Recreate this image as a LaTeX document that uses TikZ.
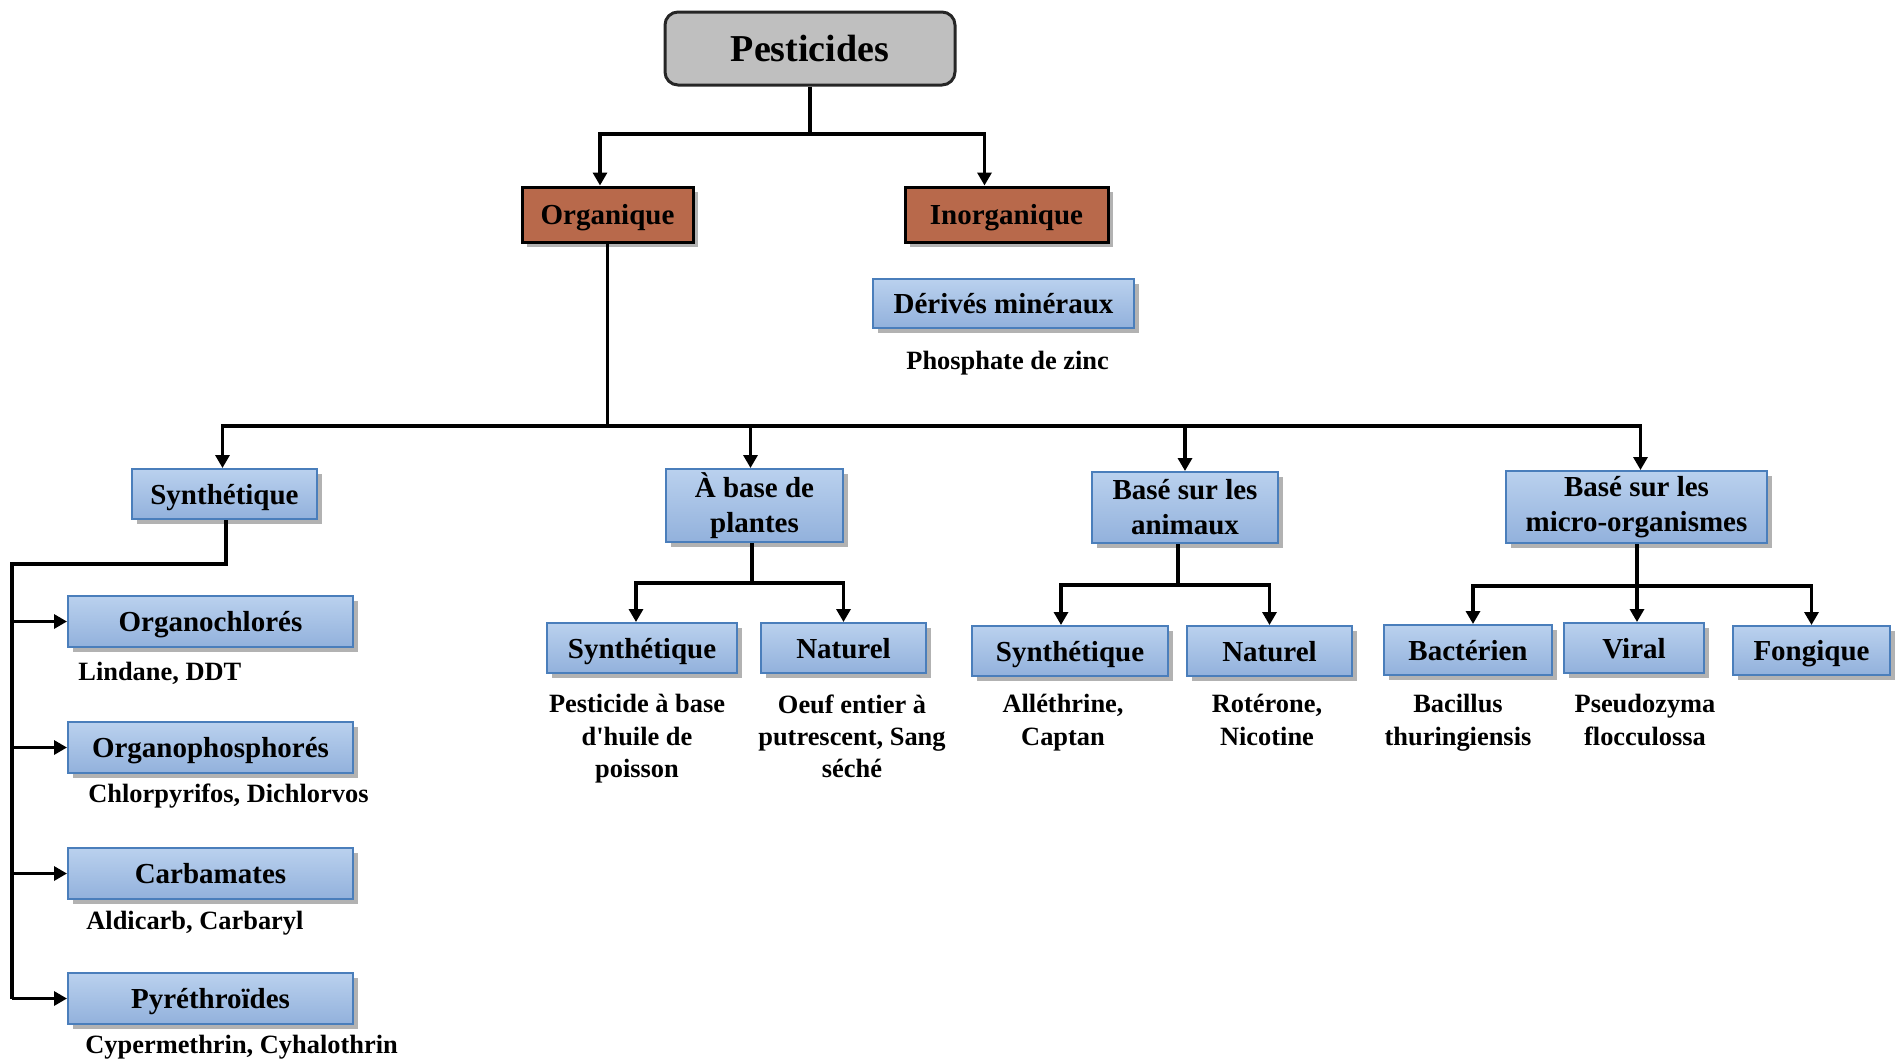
\documentclass[tikz,border=0pt]{standalone}
\usepackage{fontspec}
\setmainfont{Liberation Serif}[Ligatures=TeXOff]
\usetikzlibrary{arrows.meta,shadows}
\definecolor{boxtop}{HTML}{BAD1EE}
\definecolor{boxbot}{HTML}{92B1DC}
\definecolor{boxline}{HTML}{4A7EBB}
\definecolor{brick}{HTML}{B8694B}
\definecolor{greybox}{HTML}{BFBFBF}
\begin{document}
\begin{tikzpicture}[x=0.5pt,y=-0.5pt,
  shad/.style={drop shadow={shadow xshift=2.5pt, shadow yshift=-2.5pt, opacity=0.3, fill=black}},
  bluebox/.style={draw=boxline, line width=1pt, top color=boxtop, bottom color=boxbot,
    inner sep=0pt, align=center, font=\bfseries\fontsize{14.5}{17.5}\selectfont, shad},
  oneline/.style={text height=13pt, text depth=3pt},
  brickbox/.style={draw=black, line width=1.5pt, fill=brick, inner sep=0pt, oneline,
    font=\bfseries\fontsize{14.5}{17}\selectfont, shad, minimum height=27.5pt},
  lab/.style={inner sep=0pt, align=center, font=\bfseries\fontsize{13.2}{16.2}\selectfont},
  conn/.style={line width=1.6pt, draw=black},
  arr/.style={conn, -{Triangle[length=6.5pt,width=7pt]}}]
\useasboundingbox (0,0) rectangle (1896,1062);

% top
\node[draw=black!85, line width=1.5pt, fill=greybox, rounded corners=6.5pt,
  minimum width=145pt, minimum height=36.5pt, inner sep=0pt, text height=16.3pt, text depth=3.5pt,
  font=\bfseries\fontsize{19}{21}\selectfont] (pest) at (810,48.5) {Pesticides};
\node[brickbox, minimum width=85.5pt] (org) at (607.5,214.5) {Organique};
\node[brickbox, minimum width=101.5pt] (inorg) at (1006.5,214.5) {Inorganique};
\node[bluebox, oneline, minimum width=130.5pt, minimum height=24.5pt] (der) at (1003.5,303.5) {Dérivés minéraux};
\node[lab, anchor=west] (phos) at (906,363) {Phosphate de zinc};

% second level
\node[bluebox, oneline, minimum width=92.5pt, minimum height=25pt] (syn) at (224.5,494) {Synthétique};
\node[bluebox, minimum width=88.5pt, minimum height=36.5pt] (pla) at (754.5,505.5) {À base de\\plantes};
\node[bluebox, minimum width=93pt, minimum height=35.5pt] (ani) at (1185,507.5) {Basé sur les\\animaux};
\node[bluebox, minimum width=130.5pt, minimum height=36pt] (mic) at (1636.5,507) {Basé sur les\\micro-organismes};

% left column
\node[bluebox, oneline, minimum width=142.5pt, minimum height=25.5pt] (oc) at (210.5,621.5) {Organochlorés};
\node[bluebox, oneline, minimum width=142.5pt, minimum height=25.5pt] (op) at (210.5,747.5) {Organophosphorés};
\node[bluebox, oneline, minimum width=142.5pt, minimum height=25.5pt] (ca) at (210.5,873.5) {Carbamates};
\node[bluebox, oneline, minimum width=142.5pt, minimum height=25.5pt] (py) at (210.5,998.5) {Pyréthroïdes};
\node[lab, anchor=west] (loc) at (78,673) {Lindane, DDT};
\node[lab, anchor=west] (lop) at (88,796) {Chlorpyrifos, Dichlorvos};
\node[lab, anchor=west] (lca) at (86,923) {Aldicarb, Carbaryl};
\node[lab, anchor=west] (lpy) at (85,1047) {Cypermethrin, Cyhalothrin};

% plants
\node[bluebox, oneline, minimum width=95pt, minimum height=25pt] (ps) at (642,648) {Synthétique};
\node[bluebox, oneline, minimum width=82.5pt, minimum height=25pt] (pn) at (843.5,648) {Naturel};
\node[lab, anchor=north] (lps) at (637,694) {Pesticide à base\\d'huile de\\poisson};
\node[lab, anchor=north] (lpn) at (852,694) {Oeuf entier à\\putrescent, Sang\\séché};

% animals
\node[bluebox, oneline, minimum width=98pt, minimum height=25pt] (as) at (1070,651) {Synthétique};
\node[bluebox, oneline, minimum width=82.5pt, minimum height=25pt] (an) at (1269.5,651) {Naturel};
\node[lab, anchor=north] (las) at (1063,694) {Alléthrine,\\Captan};
\node[lab, anchor=north] (lan) at (1267,694) {Rotérone,\\Nicotine};

% micro-organisms
\node[bluebox, oneline, minimum width=84pt, minimum height=25pt] (ba) at (1468,650) {Bactérien};
\node[bluebox, oneline, minimum width=70pt, minimum height=25pt] (vi) at (1634,648) {Viral};
\node[bluebox, oneline, minimum width=78.5pt, minimum height=24.5pt] (fo) at (1811.5,650.5) {Fongique};
\node[lab, anchor=north] (lba) at (1458,694) {Bacillus\\thuringiensis};
\node[lab, anchor=north] (lvi) at (1645,694) {Pseudozyma\\flocculossa};

% connectors
\coordinate (j0) at (810,134);
\draw[arr] (pest.south) -- (j0) -| ([xshift=-3.75pt]org.north);
\draw[arr] (j0) -| ([xshift=-11pt]inorg.north);

\coordinate (j1) at (607.5,426);
\draw[conn] (org.south) -- (j1);
\draw[arr] (j1) -| ([xshift=-1pt]syn.north);
\draw[arr] (j1) -| ([xshift=-2pt]pla.north);
\draw[arr] (j1) -| (ani.north);
\draw[arr] (j1) -| ([xshift=2pt]mic.north);

\coordinate (j3) at (12,564);
\draw[conn] ([xshift=0.75pt]syn.south) |- (j3) -- (j3 |- py.west);
\draw[arr] (j3 |- oc.west) -- (oc.west);
\draw[arr] (j3 |- op.west) -- (op.west);
\draw[arr] (j3 |- ca.west) -- (ca.west);
\draw[arr] (j3 |- py.west) -- (py.west);

\coordinate (jp) at (752,583);
\draw[conn] (pla.south -| jp) -- (jp);
\draw[arr] (jp) -| ([xshift=-3pt]ps.north);
\draw[arr] (jp) -| (pn.north);

\coordinate (ja) at (1178,585);
\draw[conn] (ani.south -| ja) -- (ja);
\draw[arr] (ja) -| ([xshift=-4.5pt]as.north);
\draw[arr] (ja) -| (an.north);

\coordinate (jm) at (1637,586);
\draw[conn] (mic.south -| jm) -- (jm);
\draw[arr] (jm) -| ([xshift=2.5pt]ba.north);
\draw[arr] (jm) -| ([xshift=1.5pt]vi.north);
\draw[arr] (jm) -| (fo.north);
\end{tikzpicture}
\end{document}
